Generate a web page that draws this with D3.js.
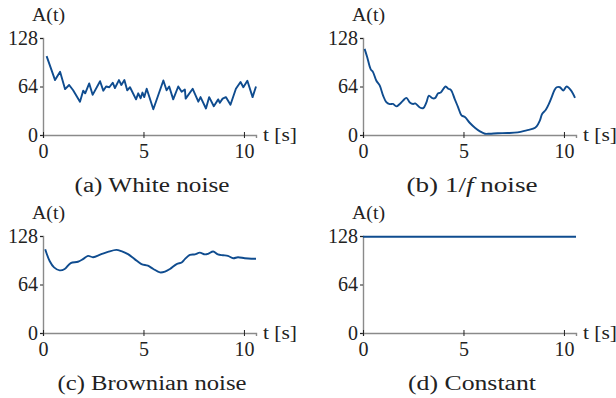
<!DOCTYPE html>
<html>
<head>
<meta charset="utf-8">
<script src="https://cdn.jsdelivr.net/npm/d3@7"></script>
<style>
  body { margin: 0; background: #fff; }
  text { font-family: "Liberation Serif", serif; fill: #222; }
</style>
</head>
<body>
<svg class="chart" width="616" height="398"></svg>
<script>
// White noise samples
const tWhite = [0.18, 0.6, 0.85, 1.1, 1.3, 1.5, 1.84, 2.0, 2.1, 2.3, 2.47, 2.84, 3.0, 3.14, 3.3, 3.47, 3.58, 3.78, 3.9, 4.05, 4.19, 4.33, 4.63, 4.74, 4.86, 4.95, 5.04, 5.16, 5.49, 5.99, 6.15, 6.28, 6.48, 6.73, 6.9, 7.06, 7.1, 7.45, 7.73, 7.84, 8.11, 8.27, 8.5, 8.72, 8.8, 8.94, 9.1, 9.33, 9.6, 9.83, 9.97, 10.17, 10.43, 10.6];
const aWhite = [104, 72.5, 83.5, 60.5, 66, 59, 44, 58.5, 55, 68, 53, 71, 58.5, 64, 63, 69, 62, 72.5, 66, 72.5, 59, 63, 47, 55, 48.5, 56, 50, 61, 34, 72, 59, 64, 47, 64, 57, 60, 48, 61, 44, 50, 35, 50, 38, 47, 42.5, 48, 50, 40, 61, 70, 63, 71.5, 50, 64];

// 1/f noise samples
const tPink = [0.08, 0.21, 0.38, 0.5, 0.66, 0.83, 1.0, 1.16, 1.33, 1.49, 1.66, 1.83, 2.0, 2.16, 2.33, 2.5, 2.6, 2.83, 3.0, 3.16, 3.28, 3.45, 3.58, 3.74, 3.87, 4.11, 4.24, 4.37, 4.56, 4.73, 4.9, 5.07, 5.32, 5.57, 5.82, 6.07, 6.3, 6.7, 7.2, 7.7, 8.14, 8.47, 8.64, 8.8, 8.92, 9.09, 9.25, 9.39, 9.52, 9.64, 9.8, 9.97, 10.13, 10.35, 10.55];
const aPink = [113.6, 102.6, 87, 83, 72, 65.4, 52, 43.4, 40.8, 41, 37.8, 41, 45.6, 49, 43, 41, 41.7, 36.3, 35.5, 43.4, 52, 48.6, 48.6, 55, 56, 64, 61, 59.6, 47.8, 36.8, 26, 23.7, 15.8, 9.6, 4.8, 1.7, 1.7, 2.3, 2.6, 3.5, 6.1, 8.3, 11.4, 19, 28, 33, 41, 50, 58.8, 63, 63, 58.8, 64, 58.8, 49];

// Brownian noise samples
const tBrown = [0.11, 0.33, 0.55, 0.83, 1.08, 1.38, 1.74, 1.99, 2.24, 2.49, 2.9, 3.23, 3.65, 3.9, 4.23, 4.56, 4.9, 5.22, 5.49, 5.82, 6.07, 6.32, 6.65, 6.9, 7.06, 7.31, 7.56, 7.8, 8.06, 8.22, 8.47, 8.7, 8.96, 9.2, 9.47, 9.7, 10.04, 10.37, 10.6];
const aBrown = [110.6, 95, 86.6, 82.7, 84.5, 92.3, 94, 97.5, 101.8, 100, 104, 107, 109.7, 108, 104, 97.5, 91, 88.8, 84.5, 80, 81, 84.5, 91, 93, 97.5, 103, 103.7, 106, 103.7, 104.5, 107.5, 103.7, 102.6, 101.8, 98.7, 100, 98.7, 98, 98];

// Constant signal
const tConst = [0, 10.6];
const aConst = [127, 127];

const xTicks = [0, 5, 10];
const yTicks = [0, 64, 128];
const captions = ["(a) White noise", "(b) 1/f noise", "(c) Brownian noise", "(d) Constant"];

const plotW = 213;
const plotH = 97;

const x = d3.scaleLinear().domain([0, 10.6]).range([0, plotW]);
const y = d3.scaleLinear().domain([0, 128]).range([plotH, 0]);

const panels = [
  { ox: 43, oy: 38, t: tWhite, a: aWhite, curve: d3.curveLinear, capW: 155 },
  { ox: 363, oy: 38, t: tPink, a: aPink, curve: d3.curveCatmullRom, capW: 131 },
  { ox: 43, oy: 236, t: tBrown, a: aBrown, curve: d3.curveCatmullRom, capW: 189 },
  { ox: 363, oy: 236, t: tConst, a: aConst, curve: d3.curveLinear, capW: 128 }
];

const svg = d3.select(".chart");

panels.forEach((p, i) => {
  const g = svg.append("g").attr("transform", `translate(${p.ox}, ${p.oy})`);

  // y axis
  const ya = g.append("g").call(d3.axisLeft(y).tickValues(yTicks).tickSize(3).tickPadding(2));
  ya.select(".domain").attr("stroke", "#8a8a8a").attr("stroke-width", 1.4);
  ya.selectAll(".tick line").attr("stroke", "#222");
  ya.selectAll(".tick text").style("font-size", "20px").attr("fill", "#222");

  // x axis
  const xa = g.append("g")
    .attr("transform", `translate(0, ${plotH})`)
    .call(d3.axisBottom(x).tickValues(xTicks).tickSize(3).tickPadding(6));
  xa.select(".domain").attr("stroke", "#8a8a8a").attr("stroke-width", 1.4);
  xa.selectAll(".tick line").attr("stroke", "#222").attr("y1", -3);
  xa.selectAll(".tick text").style("font-size", "20px").attr("fill", "#222");

  // axis labels
  g.append("text")
    .attr("x", -11)
    .attr("y", -17)
    .attr("textLength", 33)
    .attr("lengthAdjust", "spacingAndGlyphs")
    .style("font-size", "19px")
    .text("A(t)");
  g.append("text")
    .attr("x", plotW + 7)
    .attr("y", plotH + 6)
    .attr("textLength", 34)
    .attr("lengthAdjust", "spacingAndGlyphs")
    .style("font-size", "19px")
    .text("t [s]");

  // signal
  const line = d3.line()
    .x(d => x(d[0]))
    .y(d => y(d[1]))
    .curve(p.curve);
  g.append("path")
    .datum(p.t.map((t, k) => [t, p.a[k]]))
    .attr("fill", "none")
    .attr("stroke", "#0f4c8f")
    .attr("stroke-width", 1.9)
    .attr("stroke-linejoin", "round")
    .attr("d", line);

  // caption
  const cap = g.append("text")
    .attr("x", 109)
    .attr("y", plotH + 57)
    .attr("text-anchor", "middle")
    .attr("textLength", p.capW)
    .attr("lengthAdjust", "spacingAndGlyphs")
    .style("font-size", "20px");
  if (i === 1) {
    cap.append("tspan").text("(b) 1/");
    cap.append("tspan").style("font-style", "italic").text("f");
    cap.append("tspan").text(" noise");
  } else {
    cap.text(captions[i]);
  }
});
</script>
</body>
</html>
